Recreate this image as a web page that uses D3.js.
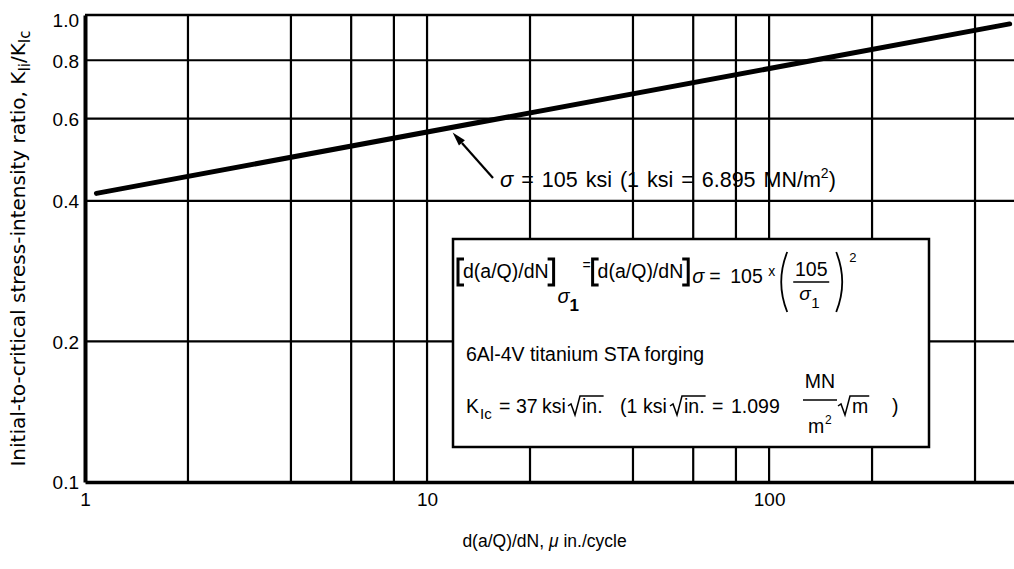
<!DOCTYPE html>
<html>
<head>
<meta charset="utf-8">
<script src="https://cdn.jsdelivr.net/npm/d3@7"></script>
<style>
  html, body { margin: 0; padding: 0; background: #fff; }
  svg { display: block; font-family: "Liberation Sans", Arial, sans-serif; }
  text { fill: #000; }
</style>
</head>
<body>
<svg id="chart" width="1014" height="569"></svg>
<script>
// Crack-growth rate axis (μin./cycle), log scale
const xDomain = [1, 520];
const xGridValues = [2, 4, 6, 8, 10, 20, 40, 60, 80, 100, 200, 400];
const xTickValues = [1, 10, 100];
const xTickLabels = ["1", "10", "100"];

// Stress-intensity ratio axis, log scale
const yDomain = [0.1, 1.0];
const yGridValues = [0.2, 0.4, 0.6, 0.8, 1.0];
const yTickValues = [0.1, 0.2, 0.4, 0.6, 0.8, 1.0];
const yTickLabels = ["0.1", "0.2", "0.4", "0.6", "0.8", "1.0"];

// sigma = 105 ksi curve: K_Ii/K_Ic against d(a/Q)/dN
const crackRate = [1.08, 505];
const stressRatio = [0.415, 0.957];

// point on the curve that the callout arrow points to
const calloutRate = 11.8;

const svg = d3.select("#chart");
const W = 1014, H = 569;
const margin = { left: 85, right: 0, top: 15, bottom: 87 };

svg.append("rect").attr("width", W).attr("height", H).attr("fill", "#fff");

const x = d3.scaleLog().domain(xDomain).range([margin.left, W - margin.right]);
const y = d3.scaleLog().domain(yDomain).range([H - margin.bottom, margin.top]);

const x0 = x.range()[0], x1 = x.range()[1];
const yb = y.range()[0], yt = y.range()[1];

// grid
const grid = svg.append("g").attr("stroke", "#000").attr("stroke-width", 2.2);
grid.selectAll("line.v").data(xGridValues).join("line")
  .attr("class", "v")
  .attr("x1", d => x(d)).attr("x2", d => x(d))
  .attr("y1", yt).attr("y2", yb);
grid.selectAll("line.h").data(yGridValues).join("line")
  .attr("class", "h")
  .attr("x1", x0).attr("x2", x1)
  .attr("y1", d => y(d)).attr("y2", d => y(d))
  .attr("stroke-width", d => d === 1.0 ? 2.6 : 2.2);

// axes
const yAxis = d3.axisLeft(y)
  .tickValues(yTickValues)
  .tickFormat((d, i) => yTickLabels[i])
  .tickSize(0).tickPadding(6);
const gy = svg.append("g").attr("transform", `translate(${x0},0)`).call(yAxis);
gy.select(".domain").attr("stroke", "#000").attr("stroke-width", 4);
gy.selectAll(".tick text")
  .attr("font-size", 19).attr("fill", "#000")
  .attr("font-family", "Liberation Sans, Arial, sans-serif")
  .attr("dy", (d) => d === 1.0 ? "0.62em" : "0.36em");

const xAxis = d3.axisBottom(x)
  .tickValues(xTickValues)
  .tickFormat((d, i) => xTickLabels[i])
  .tickSize(0).tickPadding(11);
const gx = svg.append("g").attr("transform", `translate(0,${yb})`).call(xAxis);
gx.select(".domain").attr("stroke", "#000").attr("stroke-width", 3.6);
gx.selectAll(".tick text")
  .attr("font-size", 19).attr("fill", "#000")
  .attr("font-family", "Liberation Sans, Arial, sans-serif");

// data curve
const pts = crackRate.map((r, i) => [r, stressRatio[i]]);
const line = d3.line().x(d => x(d[0])).y(d => y(d[1]));
svg.append("path").datum(pts)
  .attr("d", line)
  .attr("fill", "none").attr("stroke", "#000")
  .attr("stroke-width", 5).attr("stroke-linecap", "round");

// callout arrow onto the curve
const lx = crackRate.map(Math.log10), ly = stressRatio.map(Math.log10);
const t = (Math.log10(calloutRate) - lx[0]) / (lx[1] - lx[0]);
const calloutRatio = Math.pow(10, ly[0] + t * (ly[1] - ly[0]));
const tipX = x(calloutRate) + 1, tipY = y(calloutRatio) + 5;
const tailX = 493, tailY = 178;
const ang = Math.atan2(tipY - tailY, tipX - tailX);
const aL = 14, aW = 4;
const bx = tipX - aL * Math.cos(ang), by = tipY - aL * Math.sin(ang);
svg.append("line")
  .attr("x1", tailX).attr("y1", tailY).attr("x2", bx).attr("y2", by)
  .attr("stroke", "#000").attr("stroke-width", 2.2);
svg.append("path")
  .attr("d", `M${tipX},${tipY} L${bx + aW * Math.sin(ang)},${by - aW * Math.cos(ang)} L${bx - aW * Math.sin(ang)},${by + aW * Math.cos(ang)} Z`)
  .attr("fill", "#000");

const callout = svg.append("text").attr("x", 500).attr("y", 187)
  .attr("font-size", 21.5).attr("word-spacing", 2);
callout.append("tspan").attr("font-style", "italic").attr("font-size", 22).text("σ");
callout.append("tspan").text(" = 105 ksi (1 ksi = 6.895 MN/m");
callout.append("tspan").attr("dy", -9).attr("font-size", 14).text("2");
callout.append("tspan").attr("dy", 9).text(")");

// explanatory box
const box = svg.append("g");
box.append("rect")
  .attr("x", 453).attr("y", 239).attr("width", 476).attr("height", 208)
  .attr("fill", "#fff").attr("stroke", "#000").attr("stroke-width", 2.5);

const FS = 19.5;
function txt(xp, yp, s, size, opts = {}) {
  const el = box.append("text").attr("x", xp).attr("y", yp).attr("font-size", size).text(s);
  if (opts.italic) el.attr("font-style", "italic");
  if (opts.weight) el.attr("font-weight", opts.weight);
  if (opts.anchor) el.attr("text-anchor", opts.anchor);
  return el.node().getComputedTextLength();
}
function bracket(xp, top, bot, dir) {
  box.append("path")
    .attr("d", `M${xp + dir * 6},${top} H${xp} V${bot} H${xp + dir * 6}`)
    .attr("fill", "none").attr("stroke", "#000").attr("stroke-width", 3);
}
function paren(xp, top, bot, dir) {
  const mid = (top + bot) / 2;
  box.append("path")
    .attr("d", `M${xp},${top} Q${xp - dir * 12},${mid} ${xp},${bot}`)
    .attr("fill", "none").attr("stroke", "#000").attr("stroke-width", 1.8);
}
function radical(xp, bl, w) {
  box.append("path")
    .attr("d", `M${xp},${bl - 7} L${xp + 3},${bl - 9} L${xp + 7},${bl + 2} L${xp + 12},${bl - 17} H${xp + 13 + w + 2}`)
    .attr("fill", "none").attr("stroke", "#000").attr("stroke-width", 1.5);
}

// line 1: rate scaling relation
const b1 = 278;
bracket(458, 259, 285, 1);
let w = txt(463, b1, "d(a/Q)/dN", FS);
const r1 = 463 + w + 5;
bracket(r1, 259, 285, -1);
txt(r1 + 4, 303, "σ", 20, { italic: true });
txt(r1 + 16, 311, "1", 17, { weight: "bold" });
txt(r1 + 29, 270, "=", 14);
const l2 = r1 + 39;
bracket(l2, 259, 285, 1);
w = txt(l2 + 5, b1, "d(a/Q)/dN", FS);
const r2 = l2 + 5 + w + 5;
bracket(r2, 259, 285, -1);
txt(r2 + 4, 283, "σ", 20, { italic: true });
txt(r2 + 21, 283, "=", FS);
txt(r2 + 42, 283, "105", FS);
txt(r2 + 80, 276, "x", 14);
const pl = r2 + 99;
paren(pl, 252, 312, 1);
const fc = pl + 24;
txt(fc, 276, "105", FS, { anchor: "middle" });
box.append("line").attr("x1", fc - 18).attr("x2", fc + 18).attr("y1", 282).attr("y2", 282)
  .attr("stroke", "#000").attr("stroke-width", 1.5);
txt(fc - 12, 300, "σ", 19, { italic: true });
txt(fc, 308, "1", 15);
paren(fc + 25, 252, 312, -1);
txt(fc + 38, 262, "2", 13);

// line 2: material
txt(466, 361, "6Al-4V titanium STA forging", FS);

// line 3: fracture toughness
const b3 = 413;
txt(466, b3, "K", FS);
txt(480, 419, "Ic", 15);
txt(499, b3, "=", FS);
txt(516, b3, "37", FS);
txt(542, b3, "ksi", FS);
w = txt(582, b3, "in.", FS);
radical(568, b3, w);
txt(620, b3, "(1", FS);
txt(643, b3, "ksi", FS);
w = txt(684, b3, "in.", FS);
radical(670, b3, w);
txt(712, b3, "=", FS);
txt(731, b3, "1.099", FS);
const mc = 820;
txt(mc, 388, "MN", FS, { anchor: "middle" });
box.append("line").attr("x1", mc - 17).attr("x2", mc + 17).attr("y1", 400).attr("y2", 400)
  .attr("stroke", "#000").attr("stroke-width", 1.5);
txt(mc - 12, 433, "m", FS);
txt(mc + 5, 424, "2", 12);
w = txt(852, b3, "m", FS);
radical(838, b3, w);
txt(892, b3, ")", FS);

// axis titles
const yTitle = svg.append("text")
  .attr("transform", `translate(25,${(yt + yb) / 2}) rotate(-90)`)
  .attr("text-anchor", "middle").attr("font-size", 20)
  .attr("font-family", "DejaVu Sans, sans-serif");
yTitle.append("tspan").text("Initial-to-critical stress-intensity ratio, K");
yTitle.append("tspan").attr("dy", 5).attr("font-size", 15).text("Ii");
yTitle.append("tspan").attr("dy", -5).text("/K");
yTitle.append("tspan").attr("dy", 5).attr("font-size", 15).text("Ic");

const xTitle = svg.append("text")
  .attr("x", (x0 + x1) / 2 - 5).attr("y", 547)
  .attr("text-anchor", "middle").attr("font-size", 17.5);
xTitle.append("tspan").text("d(a/Q)/dN, ");
xTitle.append("tspan").attr("font-style", "italic").text("μ");
xTitle.append("tspan").text(" in./cycle");
</script>
</body>
</html>
